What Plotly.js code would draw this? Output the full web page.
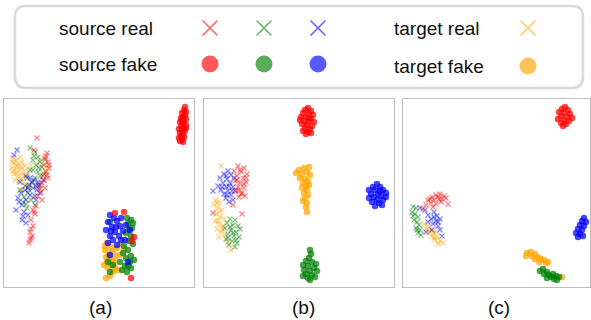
<!DOCTYPE html>
<html><head><meta charset="utf-8">
<script src="https://cdn.plot.ly/plotly-3.0.1.min.js"></script>
<style>html,body{margin:0;padding:0;background:#fff}#chart{width:591px;height:320px}</style>
</head><body><div id="chart"></div>
<script>
// ---- data: embedded coordinates (panel pixel space) ----
const panelLabels = ["(a)", "(b)", "(c)"];
const legendRows = ["source real", "source fake", "target real", "target fake"];

// Panel (a)
const aRedReal = [[37,138],[34,150],[47,153],[45,158],[48,162],[44,165],[49,168],[46,172],[43,176],[48,178],[42,183],[39,186],[45,188],[41,192],[38,196],[42,200],[36,206],[33,210],[35,214],[31,220],[33,226],[30,232],[32,236],[30,240],[29,243],[46,156],[49,165],[47,175],[44,180],[40,189],[34,212],[31,229],[31,238]];
const aGreenReal = [[30,148],[35,152],[38,157],[33,160],[40,162],[36,165],[42,167],[30,170],[38,172],[44,174],[27,178],[32,183],[25,186],[20,190],[28,193],[24,197],[31,200],[35,205],[27,208],[40,176],[35,178],[45,160],[38,185],[23,202],[34,156],[39,168],[33,170],[29,190],[26,204]];
const aBlueReal = [[17,150],[14,155],[26,176],[30,178],[34,180],[38,182],[29,185],[33,188],[37,190],[25,190],[21,193],[30,195],[35,196],[40,193],[18,198],[26,200],[22,205],[16,210],[24,212],[28,215],[22,220],[26,223],[36,200],[40,185],[43,180],[20,182],[32,182],[36,186],[28,188],[19,202],[23,216]];
const aOrangeReal = [[13,158],[16,160],[20,157],[14,163],[18,164],[22,162],[25,166],[12,168],[16,169],[20,170],[24,171],[14,174],[18,176],[22,175],[27,177],[15,180],[19,181],[24,182],[28,172],[31,165],[47,166],[45,171],[40,160],[29,187],[22,190],[33,197],[12,162],[17,166],[21,167],[13,171],[17,173],[21,179],[26,185]];
const aRedFake = [[185,107],[184,110],[186,112],[182,113],[185,115],[183,117],[181,118],[186,119],[184,121],[180,122],[183,124],[186,125],[181,126],[184,128],[179,129],[182,130],[185,131],[180,133],[183,134],[181,136],[184,137],[179,138],[182,140],[180,141],[183,142],[186,128],[182,120],[115,213],[124,212],[134,237],[132,241],[131,278]];
const aGreenFake = [[127,218],[131,220],[128,224],[132,228],[126,233],[131,236],[129,241],[133,244],[124,246],[128,250],[123,253],[131,256],[126,258],[130,262],[125,266],[131,268],[122,270],[127,272],[110,222],[108,262],[110,272],[120,262],[113,265],[133,223],[129,230],[134,260],[128,266]];
const aBlueFake = [[110,215],[114,218],[108,222],[117,221],[120,226],[112,227],[106,230],[115,232],[119,236],[110,236],[123,231],[113,240],[117,245],[125,240],[108,243],[121,218],[126,225],[130,230],[110,255],[128,262],[116,227],[111,231],[121,240]];
const aOrangeFake = [[107,243],[111,247],[105,250],[109,253],[113,251],[117,248],[120,244],[106,257],[112,259],[116,256],[107,262],[111,265],[115,268],[108,268],[113,272],[118,270],[110,276],[106,278],[120,255],[124,249],[105,246],[109,258],[114,262],[104,265]];

// Panel (b)
const bRedReal = [[238,166],[244,168],[234,171],[241,172],[247,174],[237,176],[243,178],[235,181],[240,183],[246,182],[238,187],[244,188],[236,191],[242,193],[239,197],[245,196],[233,205],[213,213],[242,214],[240,170],[237,180],[244,184],[239,190],[246,178],[241,194]];
const bGreenReal = [[230,219],[235,220],[227,223],[233,225],[238,226],[225,228],[231,230],[236,232],[228,234],[234,236],[239,237],[226,239],[232,241],[237,243],[229,245],[235,247],[240,229],[230,227],[236,240],[233,233],[228,238]];
const bBlueReal = [[228,171],[224,174],[231,175],[220,178],[227,179],[234,178],[223,183],[230,183],[218,186],[226,187],[233,187],[221,190],[228,191],[235,191],[224,194],[231,195],[226,198],[233,200],[229,202],[213,191],[226,176],[229,186],[222,187],[232,191],[227,195]];
const bOrangeReal = [[221,166],[216,200],[220,203],[214,205],[218,208],[222,210],[216,214],[220,217],[224,219],[215,221],[219,224],[223,226],[217,229],[221,232],[225,234],[219,237],[231,250],[228,242],[217,203],[219,212],[218,221],[222,229]];
const bRedFake = [[308,108],[305,110],[311,111],[303,113],[309,114],[313,115],[301,117],[306,117],[311,119],[304,121],[308,122],[314,122],[302,124],[307,125],[312,126],[305,128],[310,129],[303,131],[308,132],[306,134],[311,133],[300,120],[309,118]];
const bGreenFake = [[310,250],[311,254],[309,258],[306,261],[312,262],[316,264],[303,265],[308,266],[314,268],[304,270],[310,271],[317,271],[306,274],[312,275],[308,278],[303,276],[315,277],[310,280]];
const bBlueFake = [[377,184],[373,187],[380,187],[369,190],[375,190],[383,190],[386,193],[371,194],[378,194],[381,196],[374,197],[386,197],[369,198],[377,200],[383,200],[372,202],[379,203],[375,206],[382,205],[380,191]];
const bOrangeFake = [[299,170],[304,168],[309,167],[296,173],[302,174],[307,172],[310,175],[300,178],[305,179],[308,181],[303,183],[306,186],[302,188],[307,190],[304,193],[308,195],[305,198],[303,201],[307,203],[306,207],[307,212],[309,185]];

// Panel (c)
const cRedReal = [[432,197],[436,195],[440,194],[444,196],[428,200],[434,200],[439,199],[446,198],[431,203],[436,204],[441,202],[426,205],[448,204],[433,207],[423,209],[438,197],[442,199],[430,199]];
const cGreenReal = [[413,207],[416,208],[412,212],[415,214],[418,217],[414,220],[417,222],[419,225],[416,228],[420,230],[418,233],[421,235],[413,216],[417,230]];
const cBlueReal = [[420,208],[425,210],[428,215],[434,212],[437,216],[431,219],[436,221],[440,219],[433,224],[438,226],[428,222],[440,230],[442,236],[426,232],[432,230],[434,217],[438,222]];
const cOrangeReal = [[424,224],[428,226],[426,229],[431,229],[429,233],[434,233],[432,236],[437,237],[435,240],[440,241],[438,244],[443,243],[436,232],[430,231],[434,238]];
const cRedFake = [[565,107],[562,109],[568,110],[559,112],[564,113],[570,114],[561,116],[567,117],[572,118],[558,119],[564,120],[569,121],[561,123],[566,124],[563,126]];
const cGreenFake = [[540,271],[543,269],[547,272],[544,274],[549,275],[553,274],[551,277],[556,276],[559,277],[554,279],[547,278],[557,280]];
const cBlueFake = [[584,218],[582,221],[586,222],[580,225],[584,226],[578,229],[582,230],[576,233],[580,234],[578,237],[583,236]];
const cOrangeFake = [[527,253],[531,252],[535,254],[526,256],[532,256],[538,257],[535,259],[541,259],[544,260],[539,262],[546,263],[548,262],[562,277]];

// ---- styling / layout ----
const COL = {red:'#ff0000', green:'#008000', blue:'#0000ff', orange:'#ffa500'};
const W = 591, H = 320;
const panels = [
  {xr:[4,194], sets:{real:{red:aRedReal,green:aGreenReal,blue:aBlueReal,orange:aOrangeReal}, fake:{red:aRedFake,green:aGreenFake,blue:aBlueFake,orange:aOrangeFake}}},
  {xr:[204,394], sets:{real:{red:bRedReal,green:bGreenReal,blue:bBlueReal,orange:bOrangeReal}, fake:{red:bRedFake,green:bGreenFake,blue:bBlueFake,orange:bOrangeFake}}},
  {xr:[403,590], sets:{real:{red:cRedReal,green:cGreenReal,blue:cBlueReal,orange:cOrangeReal}, fake:{red:cRedFake,green:cGreenFake,blue:cBlueFake,orange:cOrangeFake}}}
];
const yTop = 99, yBot = 287;
const traces = [];
const layout = {
  width: W, height: H, margin:{l:0,r:0,t:0,b:0},
  paper_bgcolor:'#fff', plot_bgcolor:'rgba(0,0,0,0)', showlegend:false,
  font:{family:'Liberation Sans, Arial, sans-serif', color:'#111'},
  shapes:[], annotations:[]
};
const order = ['orange','green','blue','red'];
panels.forEach((p, i) => {
  const n = i + 1, xa = 'x' + (n===1?'':n), ya = 'y' + (n===1?'':n);
  ['real','fake'].forEach(kind => {
    order.forEach(c => {
      const pts = p.sets[kind][c];
      traces.push({
        type:'scatter', mode:'markers', xaxis:xa, yaxis:ya, hoverinfo:'skip',
        x: pts.map(d=>d[0]), y: pts.map(d=>d[1]),
        marker: kind==='real'
          ? {symbol:'x-thin-open', size:5, color:COL[c], opacity:0.5, line:{width:1.1, color:COL[c]}}
          : {symbol:'circle', size:6.5, color:COL[c], opacity:0.72, line:{width:0}}
      });
    });
  });
  const ax = {showticklabels:false, showgrid:false, zeroline:false, ticks:'', showline:true, mirror:true, linecolor:'#bdbdbd', linewidth:1, fixedrange:true};
  layout['xaxis' + (n===1?'':n)] = Object.assign({}, ax, {domain:[p.xr[0]/W, p.xr[1]/W], range:p.xr, anchor:ya});
  layout['yaxis' + (n===1?'':n)] = Object.assign({}, ax, {domain:[1-yBot/H, 1-yTop/H], range:[yBot, yTop], anchor:xa});
});
// overlay axis in page pixel space for legend box and labels
layout.xaxis4 = {domain:[0,1], range:[0,W], visible:false, fixedrange:true, anchor:'y4'};
layout.yaxis4 = {domain:[0,1], range:[H,0], visible:false, fixedrange:true, anchor:'x4'};

// legend box (rounded)
const bx0=15, bx1=583, by0=6, by1=88, r=11;
layout.shapes.push({type:'path', xref:'x4', yref:'y4', line:{color:'#d9d9d9', width:2.5}, fillcolor:'rgba(0,0,0,0)',
  path:`M${bx0+r},${by0} L${bx1-r},${by0} Q${bx1},${by0} ${bx1},${by0+r} L${bx1},${by1-r} Q${bx1},${by1} ${bx1-r},${by1} L${bx0+r},${by1} Q${bx0},${by1} ${bx0},${by1-r} L${bx0},${by0+r} Q${bx0},${by0} ${bx0+r},${by0} Z`});

const legTxt = [[57,28],[57,64],[392,28],[392,66]];
legendRows.forEach((t,k)=>{
  layout.annotations.push({xref:'x4', yref:'y4', x:legTxt[k][0], y:legTxt[k][1], text:t, showarrow:false, xanchor:'left', yanchor:'middle', font:{size:19, color:'#111'}});
});
const legMarkX = [210, 264, 318], legOrangeX = 528;
const legSrc = ['red','green','blue'];
traces.push({type:'scatter', mode:'markers', xaxis:'x4', yaxis:'y4', hoverinfo:'skip',
  x: legMarkX.concat([legOrangeX]), y:[28,28,28,28],
  marker:{symbol:'x-thin-open', size:15, color:legSrc.map(c=>COL[c]).concat([COL.orange]), opacity:0.6, line:{width:1.6, color:legSrc.map(c=>COL[c]).concat([COL.orange])}}});
traces.push({type:'scatter', mode:'markers', xaxis:'x4', yaxis:'y4', hoverinfo:'skip',
  x: legMarkX.concat([legOrangeX]), y:[64,64,64,66],
  marker:{symbol:'circle', size:17, color:legSrc.map(c=>COL[c]).concat([COL.orange]), opacity:0.65, line:{width:0}}});

const labX = [100, 303, 499];
panelLabels.forEach((t,k)=>{
  layout.annotations.push({xref:'x4', yref:'y4', x:labX[k], y:307, text:t, showarrow:false, xanchor:'center', yanchor:'middle', font:{size:19, color:'#111'}});
});

Plotly.newPlot('chart', traces, layout, {displayModeBar:false, staticPlot:true});
</script></body></html>
